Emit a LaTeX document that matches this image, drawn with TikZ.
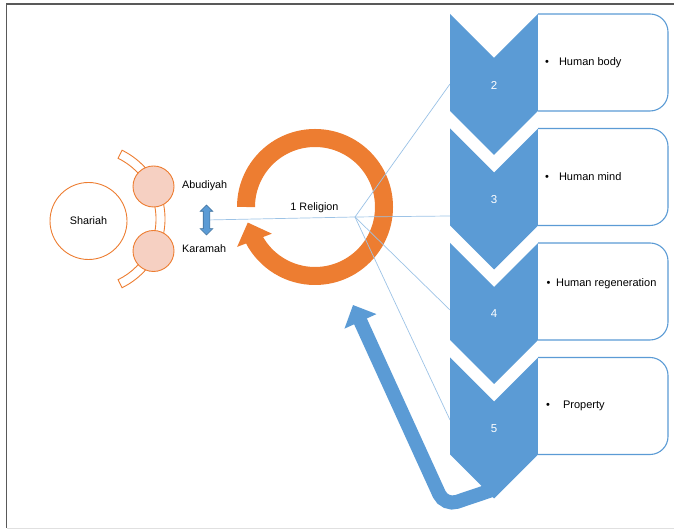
\documentclass[tikz,border=0pt]{standalone}
\usepackage{fontspec}
\setmainfont{Liberation Sans}
\usetikzlibrary{arrows.meta,bending,shapes.arrows}
\definecolor{orng}{HTML}{ED7D31}
\definecolor{pinkfill}{HTML}{F6D0C2}
\definecolor{boxblue}{HTML}{5B9BD5}
\definecolor{darkblue}{HTML}{41719C}
\definecolor{lineblue}{HTML}{9DC3E6}
\definecolor{framegray}{HTML}{595959}

\begin{document}
\begin{tikzpicture}[x=1pt,y=1pt]
  \tikzset{every node/.style={font=\fontsize{10.8}{13}\selectfont},
    bigcirc/.style={circle, draw=orng, line width=0.9pt, fill=white, minimum size=77pt, inner sep=0},
    pinkcirc/.style={circle, draw=orng, line width=0.9pt, fill=pinkfill, minimum size=41pt, inner sep=0},
    band/.style={draw=orng, line width=0.9pt, fill=white},
    lbl/.style={anchor=west, inner sep=1pt},
    updown/.style={double arrow, rotate=90, draw=darkblue, fill=boxblue, line width=0.6pt,
      minimum height=30pt, inner sep=3pt, double arrow head extend=3pt},
    ring/.style={draw=orng, line width=18pt, -{Triangle[width=36pt,length=19pt,flex]}},
    uarrow/.style={draw=boxblue, line width=14pt, -{Triangle[width=34pt,length=18pt]}},
    link/.style={draw=lineblue, line width=0.7pt},
    chev/.style={fill=boxblue},
    itembox/.style={draw=boxblue, line width=1.1pt, fill=white},
    numtext/.style={text=white, font=\fontsize{11.5}{13}\selectfont},
    item/.style={anchor=west, inner sep=0, font=\fontsize{11}{13}\selectfont}}
  \useasboundingbox (0,0) rectangle (674,529);
  \draw[framegray, line width=1.2pt] (674,525) -- (6.5,525) -- (6.5,1);
  \draw[black!12, line width=0.8pt] (6.5,1) -- (674,1);

  \coordinate (bc) at (88.5,310);
  \draw[band] ([shift={(64:67.5)}]bc) arc[start angle=64, end angle=-64, radius=67.5]
    -- ([shift={(-64:76.5)}]bc) arc[start angle=-64, end angle=64, radius=76.5] -- cycle;
  \node[bigcirc] (shariah) at (88.5,308) {Shariah};
  \node[pinkcirc] (abud) at (153.5,342.5) {};
  \node[pinkcirc] (karam) at (153.5,278) {};
  \node[lbl] (abudlbl) at (181,343) {Abudiyah};
  \node[lbl] (karamlbl) at (181,280) {Karamah};
  \node[updown] (updown) at (206.5,309) {};

  \coordinate (ringc) at (315,322);
  \draw[ring] ([shift={(180:69)}]ringc) arc[start angle=180, end angle=-167, radius=69];
  \node (relig) at (314.5,321) {1 Religion};

  \coordinate (hub) at (355,312);
  \coordinate (in2) at (450,445);
  \coordinate (in3) at (450,313);
  \coordinate (in4) at (450,219);
  \coordinate (in5) at (450,109);
  \draw[link] (updown) -- (hub);
  \foreach \c in {in2,in3,in4,in5}
    \draw[link] (hub) -- (\c);

  \coordinate (tail) at (492,39);
  \coordinate (bend) at (444.6,23);
  \coordinate (uptip) at (353,224);
  \draw[uarrow] (tail) [rounded corners=13pt] -- (bend) -- (uptip);

  \foreach \n/\t in {2/515,3/400.5,4/286,5/171.5} {
    \fill[chev] (450,\t) -- (494,\t-44) -- (538,\t) -- (538,\t-97) -- (494,\t-141) -- (450,\t-97) -- cycle;
    \node[numtext] (num\n) at (494,\t-71) {\n};
    \draw[itembox] (538,\t) -- (650,\t) arc[start angle=90, end angle=0, radius=18]
      -- (668,\t-79) arc[start angle=0, end angle=-90, radius=18] -- (538,\t-97);
  }

  \foreach \n/\x/\y/\gap/\txt in {2/545/466/10pt/Human body, 3/545/352/10pt/Human mind,
      4/546.5/245.5/5.6pt/Human regeneration, 5/546/123/13pt/Property}
    \node[item] (item\n) at (\x,\y) {\textbullet\hspace{\gap}\txt};
\end{tikzpicture}
\end{document}
